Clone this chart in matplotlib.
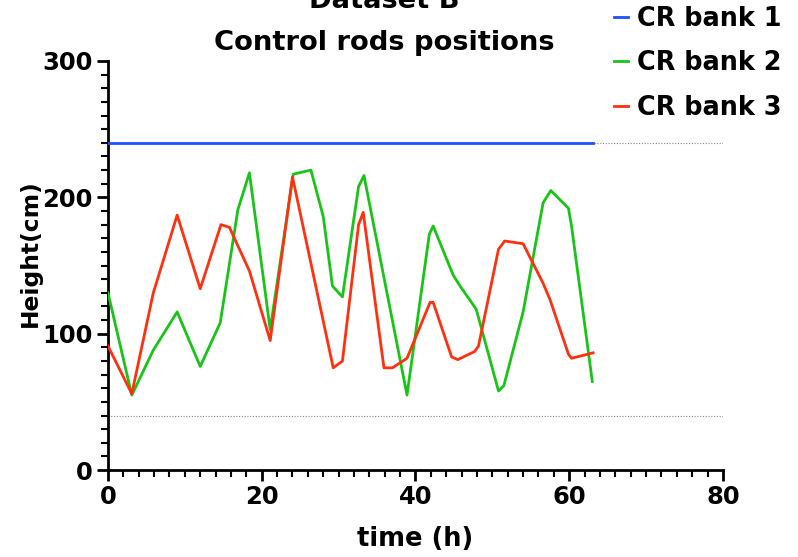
import matplotlib
matplotlib.use("Agg")
import matplotlib.pyplot as plt
from matplotlib.ticker import MultipleLocator

# values
bank1_t = [0, 63.1]
bank1_h = [240, 240]

bank2_t = [0, 3.1, 5.9, 9.0, 12.0, 14.6, 16.9, 18.4, 21.1, 24.1, 26.4, 28.0, 29.2, 30.5,
           32.6, 33.3, 38.9, 41.8, 42.3, 44.9, 45.8, 47.9, 50.8, 51.5, 54.0, 56.6, 57.6,
           59.9, 60.3, 63.0]
bank2_h = [130, 55, 88, 116, 76, 108, 191, 218, 103, 217, 220, 186, 135, 127,
           208, 216, 55, 173, 179, 143, 135, 118, 58, 62, 116, 196, 205,
           192, 179, 65]

bank3_t = [0, 3.1, 5.9, 9.0, 12.0, 14.7, 15.8, 18.4, 21.1, 24.0, 29.3, 30.5, 32.6, 33.2,
           35.9, 37.0, 38.9, 41.9, 42.3, 44.7, 45.5, 47.7, 48.2, 50.8, 51.6, 54.0, 56.6,
           57.5, 59.9, 60.3, 63.1]
bank3_h = [91, 56, 130, 187, 133, 180, 178, 146, 95, 215, 75, 80, 180, 189,
           75, 75, 82, 123, 123, 83, 81, 87, 91, 162, 168, 166, 137,
           125, 85, 82, 86]

limits = [240, 40]
labels = ["CR bank 1", "CR bank 2", "CR bank 3"]
colors = ["#1f4fff", "#18c418", "#ff3010"]

plt.rcParams['font.family'] = ['DejaVu Sans']
plt.rcParams['font.weight'] = 'bold'

fig = plt.figure(figsize=(7.98, 5.57), dpi=100)
ax = fig.add_axes([0.1353, 0.156, 0.9060 - 0.1353, 0.8905 - 0.156])

for lim in limits:
    ax.axhline(lim, color="#888888", lw=0.8, ls=(0, (1, 1.5)), zorder=1)

ax.plot(bank1_t, bank1_h, color=colors[0], lw=2, label=labels[0], zorder=3)
ax.plot(bank2_t, bank2_h, color=colors[1], lw=2, label=labels[1], zorder=3)
ax.plot(bank3_t, bank3_h, color=colors[2], lw=2, label=labels[2], zorder=3)

ax.set_xlim(0, 80)
ax.set_ylim(0, 300)
ax.xaxis.set_major_locator(MultipleLocator(20))
ax.xaxis.set_minor_locator(MultipleLocator(2))
ax.yaxis.set_major_locator(MultipleLocator(100))
ax.yaxis.set_minor_locator(MultipleLocator(10))

for s in ["top", "right"]:
    ax.spines[s].set_visible(False)
for s in ["left", "bottom"]:
    ax.spines[s].set_linewidth(2)
    ax.spines[s].set_clip_on(False)

ax.tick_params(which="major", length=8, width=2, labelsize=17.5, pad=3)
ax.tick_params(which="minor", length=5, width=1.5)
for t in ax.get_xticklabels() + ax.get_yticklabels():
    t.set_fontweight("bold")

ax.set_xlabel("time (h)", fontsize=18.5, fontweight="bold", labelpad=12)
ax.set_ylabel("Height(cm)", fontsize=16.8, fontweight="bold")
ax.yaxis.set_label_coords(-0.107, 0.53)

fig.text(384 / 798, (557 - 50) / 557, "Control rods positions", ha="center",
         va="baseline", fontsize=19.7, fontweight="bold")
fig.text(384 / 798, (557 - 8) / 557, "Dataset B", ha="center",
         va="baseline", fontsize=19.7, fontweight="bold")

fig.legend(loc="upper left", bbox_to_anchor=(614 / 798, 1.0 - 6 / 557), frameon=False,
           handlelength=0.55, handletextpad=0.35, labelspacing=0.72,
           borderpad=0, borderaxespad=0, prop={'weight': 'bold', 'size': 18.4})

fig.savefig("out.png", dpi=100)
